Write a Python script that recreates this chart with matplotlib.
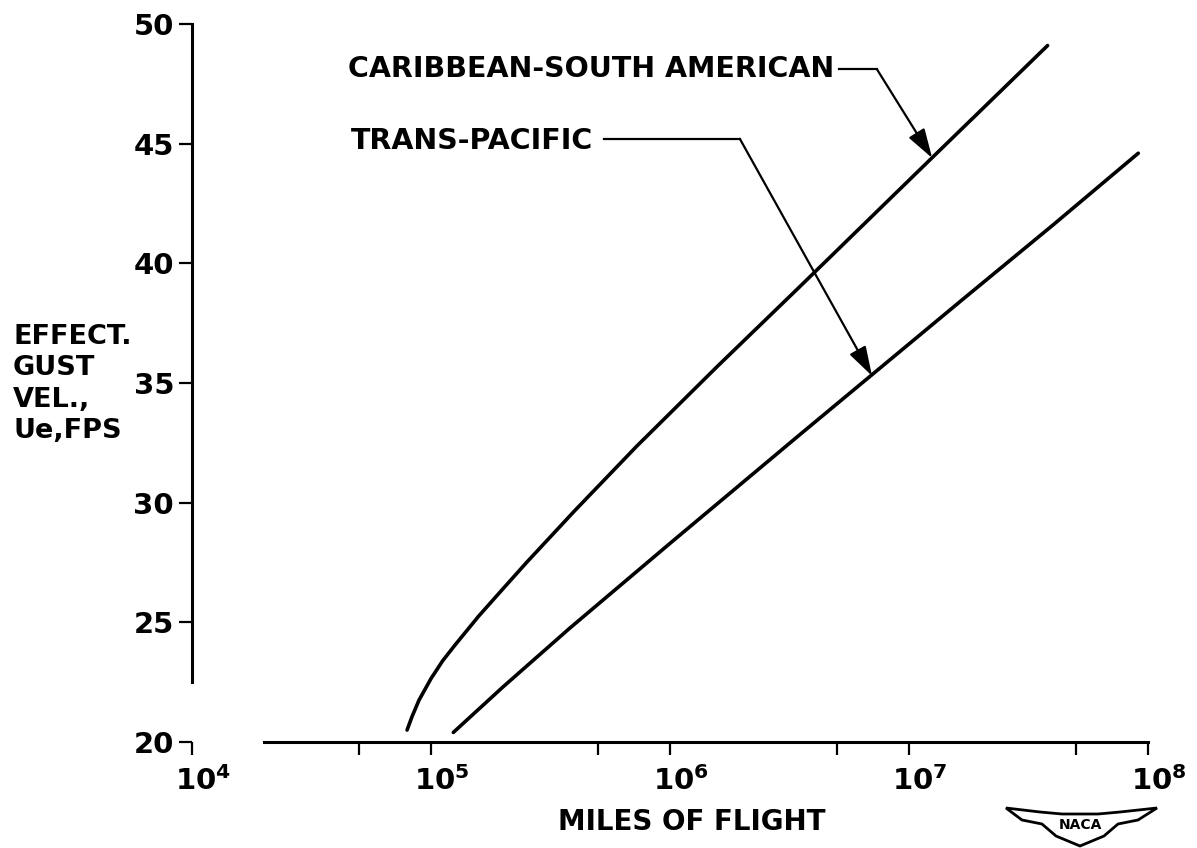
import matplotlib
matplotlib.use("Agg")
import matplotlib.pyplot as plt
import matplotlib.transforms as mtransforms
from matplotlib.patches import Polygon
from matplotlib.ticker import FixedLocator, NullFormatter

# curves (miles of flight, effective gust velocity fps)
carib_miles = [7.94e4, 8.32e4, 8.91e4, 1.0e5, 1.12e5, 1.26e5, 1.58e5, 2.0e5, 2.51e5,
               3.98e5, 7.24e5, 1.58e6, 3.47e6, 1.26e7, 3.8e7]
carib_gust = [20.5, 21.05, 21.75, 22.65, 23.4, 24.05, 25.25, 26.4, 27.5,
              29.65, 32.35, 35.7, 39.0, 44.45, 49.1]

trans_miles = [1.24e5, 2.0e5, 3.8e5, 1.0e6, 3.5e6, 1.68e7, 4.0e7, 9.1e7]
trans_gust = [20.4, 22.3, 24.75, 28.3, 32.85, 38.5, 41.6, 44.6]

y_ticks = [20, 25, 30, 35, 40, 45, 50]
x_major = [1e4, 1e5, 1e6, 1e7, 1e8]
x_minor = [5e4, 5e5, 5e6, 5e7]
x_labels = [r"$\mathbf{10^{4}}$", r"$\mathbf{10^{5}}$", r"$\mathbf{10^{6}}$",
            r"$\mathbf{10^{7}}$", r"$\mathbf{10^{8}}$"]

fig = plt.figure(figsize=(11.97, 8.48), dpi=100)
ax = fig.add_axes([0.1604, 0.125, 0.7987, 0.8467])

ax.plot(carib_miles, carib_gust, color="black", lw=2.6, solid_capstyle="round")
ax.plot(trans_miles, trans_gust, color="black", lw=2.6, solid_capstyle="round")

ax.set_xscale("log")
ax.set_xlim(1e4, 1e8)
ax.set_ylim(20, 50)

for s in ["top", "right"]:
    ax.spines[s].set_visible(False)
ax.spines["left"].set_linewidth(2.2)
ax.spines["bottom"].set_linewidth(2.2)
ax.spines["left"].set_bounds(22.5, 50)
ax.spines["bottom"].set_bounds(2e4, 1e8)

ax.set_yticks(y_ticks)
ax.set_yticklabels([str(v) for v in y_ticks])
ax.xaxis.set_major_locator(FixedLocator(x_major))
ax.xaxis.set_minor_locator(FixedLocator(x_minor))
ax.set_xticklabels(x_labels)
ax.xaxis.set_minor_formatter(NullFormatter())

ax.tick_params(axis="y", direction="out", length=9.4, width=1.6, pad=3.5,
               labelsize=21)
ax.tick_params(axis="x", which="both", direction="out", length=9.4, width=1.6,
               pad=8, labelsize=21)
for lab in ax.get_yticklabels():
    lab.set_fontweight("bold")
shift = mtransforms.ScaledTranslation(8 / 72, 0, fig.dpi_scale_trans)
for lab in ax.get_xticklabels():
    lab.set_transform(lab.get_transform() + shift)

arrow_style = dict(arrowstyle="-|>,head_length=0.9,head_width=0.28",
                   lw=1.6, color="black", shrinkA=0, shrinkB=0, mutation_scale=20)

# annotations with leaders
ax.text(4.5e4, 48.1, "CARIBBEAN-SOUTH AMERICAN", fontsize=20.5, fontweight="bold",
        ha="left", va="center")
ax.plot([5.1e6, 7.35e6], [48.1, 48.1], color="black", lw=1.6)
ax.annotate("", xy=(1.25e7, 44.4), xytext=(7.35e6, 48.1), arrowprops=arrow_style)

ax.text(4.6e4, 45.1, "TRANS-PACIFIC", fontsize=20.5, fontweight="bold",
        ha="left", va="center")
ax.plot([5.3e5, 1.96e6], [45.2, 45.2], color="black", lw=1.6)
ax.annotate("", xy=(7.0e6, 35.3), xytext=(1.96e6, 45.2), arrowprops=arrow_style)

# axis titles
fig.text(13 / 1197, 1 - 384 / 848, "EFFECT.\nGUST\nVEL.,\nUe,FPS", fontsize=19.5,
         fontweight="bold", ha="left", va="center", linespacing=1.27)
fig.text(692 / 1197, 1 - 822 / 848, "MILES OF FLIGHT", fontsize=20,
         fontweight="bold", ha="center", va="center")

# NACA wing emblem
wing = [(1006, 808), (1040, 812), (1062, 814), (1098, 814), (1120, 812),
        (1157, 808), (1138, 820), (1118, 824), (1104, 836), (1080, 846),
        (1056, 836), (1042, 824), (1022, 820)]
wing_fig = [(x / 1197, 1 - y / 848) for x, y in wing]
fig.patches.append(Polygon(wing_fig, closed=True, facecolor="white",
                           edgecolor="black", lw=2, transform=fig.transFigure))
fig.text(1080 / 1197, 1 - 825 / 848, "NACA", fontsize=10, fontweight="bold",
         ha="center", va="center")

fig.savefig("out.png", dpi=100)
